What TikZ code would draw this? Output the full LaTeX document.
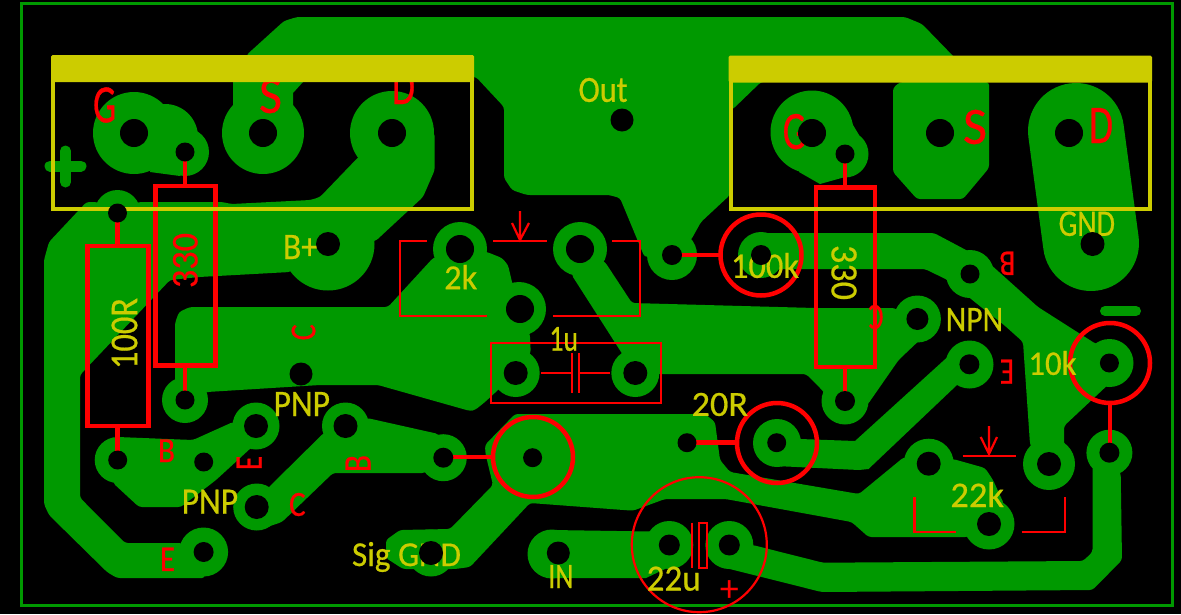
\documentclass[tikz,border=0pt]{standalone}
\usepackage{graphicx}
\usepackage{fontspec}
\newfontfamily\pcbfont[FakeBold=0.6]{Carlito}
\setmainfont{Carlito}
\definecolor{cu}{HTML}{009900}
\definecolor{silk}{HTML}{CCCC00}
\definecolor{rd}{HTML}{FF0000}
\newcommand{\pad}[3]{\fill[cu] (#1,#2) circle (#3pt);}
\newcommand{\hole}[3]{\fill[black] (#1,#2) circle (#3pt);}
\newcommand{\labb}[7][0]{\node[#6,inner sep=0pt,rotate=#1,anchor=center] at (#2,#3) {\resizebox{#4pt}{#5pt}{\fontsize{36}{36}\pcbfont #7}};}
\tikzset{
  poly/.style={fill=cu,rounded corners=3pt},
  redthick/.style={draw=rd,line width=4.5pt},
  redthin/.style={draw=rd,line width=2.2pt},
  silkline/.style={draw=silk,line width=4pt}
}
\begin{document}
\begin{tikzpicture}[x=1pt,y=-1pt]
\useasboundingbox (0,0) rectangle (1181,614);
\fill[black] (0,0) rectangle (1181,614);
% board outline
\draw[cu,line width=3pt] (21.5,3.5) -- (1172,3.5) -- (1172,605.5) -- (21.5,605.5) -- cycle;
% plus and minus
\draw[cu,line width=11pt,line cap=round] (50,166) -- (81,166) (65.5,151) -- (65.5,182);
\draw[cu,line width=10pt,line cap=round] (1105,311) -- (1136,311);
% large output copper
\fill[poly] (284,21) -- (297,17) -- (905,17) -- (922,24) -- (955,58) -- (958,72) -- (761,82) -- (733,109) -- (730,110) -- (730,195) -- (701,222) -- (691,240) -- (672,255) -- (644.5,257) -- (620,198) -- (609,195) -- (527,195) -- (512,190) -- (504,178) -- (504,107) -- (476,77) -- (246.5,62) -- (246.5,55) -- cycle;
\fill[cu] (233,70) -- (303,70) -- (303,82) -- (293,93) -- (293,115) -- (233,115) -- cycle;
% left transistor pads
\pad{134}{133}{41}\pad{263}{133}{41}\pad{392}{133}{42}\pad{185}{152}{24}\pad{165}{137}{33}
\fill[cu] (150,172) -- (180,176) -- (190,150) -- (165,110) -- cycle;
% long left trace with B+
\fill[poly] (49,242) -- (44,260) -- (44,504) -- (49,515) -- (107,572) -- (117,578) -- (205,578) -- (203.6,552) -- (180.6,543) -- (125,543) -- (80,497.7) -- (80,375) -- (170,280) -- (199,277) -- (290,272) -- (328,244) -- (375.6,241) -- (423,197) -- (434.7,170) -- (434.7,133) -- (392,133) -- (357.5,158) -- (320,197) -- (310.5,200) -- (231.5,204) -- (222,202) -- (138.5,202) -- (117.5,213) -- (97,202) -- (86.5,202) -- cycle;
\pad{117.5}{213}{23}\pad{328}{244}{46.5}\pad{203.6}{552}{24.5}
% centre copper
\fill[poly] (175,323) -- (179,312) -- (190,307) -- (388,307) -- (433,258) -- (460,249) -- (487,252) -- (502,258) -- (508,265) -- (512,282) -- (519,309) -- (530,335) -- (530.7,353) -- (515,373) -- (498,390) -- (485,402) -- (475,410) -- (470,411) -- (378,385) -- (320,385) -- (207,392) -- (185,400) -- (175,380) -- cycle;
\pad{460}{249}{27}\pad{519}{309}{27}\pad{515.7}{373}{24}\pad{185}{400}{23}
% right band
\fill[poly] (605,262) -- (632,303) -- (815,308) -- (895,308) -- (925,335) -- (898.6,360) -- (868,404) -- (845,420) -- (822,390) -- (806,374) -- (635,374) -- (621.7,353) -- (571.7,275) -- (580,249) -- cycle;
\pad{580}{249}{27}\pad{635.3}{373}{24}\pad{917.4}{319}{23.5}\pad{845}{401}{23.5}\pad{672}{255}{25}
% right transistor pads
\pad{812}{132}{41.5}\pad{845}{154}{23.5}
\fill[cu] (850,120) -- (859,135) -- (845,177) -- (820,184) -- (799,172) -- (812,132) -- cycle;
\fill[poly] (900,82) -- (989,82) -- (989,168) -- (963,199) -- (917,199) -- (893,172) -- (893,88) -- cycle;
\draw[cu,line width=96pt,line cap=round] (1076,131) -- (1091,243);
% 100k to 10k
\fill[poly] (761,233) -- (934,233) -- (966,250) -- (989,263) -- (1038,307) -- (1096,344) -- (1120,344) -- (1133,363) -- (1105.6,387) -- (1064,426) -- (1064,444) -- (1075,464) -- (1049,489) -- (1030,444) -- (1023,342) -- (1004,325) -- (981,307) -- (947.5,280) -- (925,269) -- (761,269) -- cycle;
\pad{761}{255}{23}\pad{970}{274}{24}\pad{1109.5}{363}{24}\pad{1049}{464}{26}
% 20R to E
\fill[cu] (777,443) -- (800,439) -- (855,441) -- (947.5,357) -- (969,345) -- (990,370) -- (957,385) -- (868.5,469) -- (859,470) -- (776,466) -- cycle;
\pad{777}{443}{24}\pad{969.5}{364.5}{24}
% PNP traces
\fill[poly] (117.7,437) -- (193,440) -- (233,422) -- (256,426) -- (252,447) -- (216,480) -- (181,507) -- (139,507) -- (113,483) -- (117.7,460) -- cycle;
\pad{117.7}{460}{23}\pad{256}{426}{23.5}
\fill[poly] (256,507) -- (269,487) -- (323.7,433) -- (345,426) -- (367,418) -- (438.5,434) -- (443,457) -- (425,473) -- (333,473) -- (282,522) -- (267,527) -- cycle;
\pad{256.7}{507}{23.5}\pad{345.5}{426}{23.5}\pad{443.3}{457.7}{23.5}
% big signal copper
\fill[poly] (515,414) -- (705,414) -- (715,422) -- (720,460) -- (730,472) -- (859,494) -- (904,457) -- (929,464) -- (953,459) -- (985,468) -- (993,480) -- (1004,504) -- (989,524) -- (968,537) -- (868.5,537) -- (851.6,522) -- (725.5,499) -- (665,499) -- (633,510.7) -- (530,503) -- (470,567) -- (455,569) -- (403,569) -- (386,558) -- (386,540) -- (400,530) -- (450,529) -- (493,485) -- (485.5,454) -- (485,445) -- cycle;
\pad{928.7}{463.7}{25}\pad{989}{524}{25.5}\pad{431}{553}{23.5}
% IN
\fill[cu] (552,530) -- (650,531.5) -- (669,545) -- (690,545) -- (665,569) -- (646,578) -- (552,578) -- cycle;
\pad{552}{554}{24.5}\pad{669.3}{545}{24}
% 22u to 10k lower
\fill[poly] (729,545) -- (752.7,545) -- (823,562.7) -- (1083,561) -- (1092.5,552) -- (1092.5,467) -- (1110,453) -- (1120.7,473.7) -- (1122,560) -- (1092.5,590) -- (821.5,592) -- (721.7,567) -- (710,560) -- cycle;
\pad{729.3}{545}{24}\pad{1109.4}{452.7}{23}
% red: leads and bodies
\draw[redthick] (155.4,186) rectangle (215.6,365.7);
\draw[redthick] (185,152) -- (185,186) (185,366) -- (185,400);
\draw[redthick] (87.7,246) rectangle (148.7,426);
\draw[redthick] (117.5,213) -- (117.5,246) (117.5,426) -- (117.5,460);
\draw[redthick] (815.8,187.7) rectangle (875,367);
\draw[redthick] (845,154) -- (845,188) (845,367) -- (845,401);
\draw[redthick] (761,255) circle (40.5pt);
\draw[redthick] (672,255) -- (720.5,255);
\draw[redthick] (1110,363) circle (40pt);
\draw[redthick] (1110,403) -- (1110,452);
\draw[redthick] (533,457) circle (40pt);
\draw[redthick] (443,457) -- (493,457);
\draw[redthick] (777,443) circle (40pt);
\draw[redthick] (687,442.7) -- (737,442.7);
% 2k trimmer
\draw[redthin] (427,241) -- (400,241) -- (400,316) -- (486.7,316);
\draw[redthin] (493.3,241) -- (546.7,241);
\draw[redthin] (612.3,241) -- (640,241) -- (640,316) -- (552.7,316);
\draw[redthin] (520,211) -- (520,240) (512,223) -- (520,240) -- (529,223);
% 1u
\draw[redthin] (490.7,342.7) rectangle (660.7,402.7);
\draw[redthin] (541,373) -- (571.7,373) (579,373) -- (610,373);
\draw[redthin] (571.7,353.3) -- (571.7,392.7) (579,353.3) -- (579,392.7);
% 22k
\draw[redthin] (962.6,456.3) -- (1016,456.3);
\draw[redthin] (989,426) -- (989,454) (980.7,437) -- (989,454) -- (997,437);
\draw[redthin] (914.4,497) -- (914.4,531.7) -- (956,531.7);
\draw[redthin] (1021.7,531.7) -- (1064.6,531.7) -- (1064.6,497);
% 22u
\draw[redthin] (699.3,544.7) circle (67.5pt);
\draw[redthin] (691.7,522.7) -- (691.7,568.3);
\draw[redthin] (698.7,522.7) rectangle (707.3,568.3);
% red labels
\labb{104.6}{105}{23}{35}{rd}{G}
\labb{270.5}{96}{23}{34}{rd}{S}
\labb{403.5}{87}{23}{34}{rd}{D}
\labb{794.3}{131.6}{23}{35}{rd}{G}
\labb{975}{127}{24}{34}{rd}{S}
\labb{1101}{125.5}{24}{35}{rd}{D}
\labb[90]{185.3}{260.5}{55}{24.6}{rd}{330}
\labb[180]{1007.4}{263.3}{16}{23.3}{rd}{B}
\labb[180]{1007}{371.7}{14}{24}{rd}{E}
\labb[180]{876}{317}{15}{24}{rd}{C}
\labb[90]{303.5}{332.3}{16}{23.7}{rd}{C}
\labb[90]{249.2}{463}{14}{25}{rd}{E}
\labb[90]{358}{463.5}{17}{25}{rd}{B}
\labb{166.5}{450.7}{17}{22.7}{rd}{B}
\labb{297.3}{504.5}{16.6}{23}{rd}{C}
\labb{167.5}{559.3}{15}{23.3}{rd}{E}
\node[rd,inner sep=0pt] at (729.3,590.7) {\fontsize{38}{38}\selectfont +};
% yellow silk boxes
\fill[silk,rounded corners=1.5pt] (51,55) rectangle (474,82);
\draw[silkline] (53,80) -- (53,208.7) -- (472,208.7) -- (472,80);
\fill[silk,rounded corners=1.5pt] (728.5,55.7) rectangle (1152,82.5);
\draw[silkline] (730.5,80) -- (730.5,209) -- (1150,209) -- (1150,80);
% yellow labels
\labb{603}{90}{49}{24}{silk}{Out}
\labb{300.5}{247}{35}{24}{silk}{B+}
\labb{460.7}{277}{33}{24.3}{silk}{2k}
\labb{563.7}{339}{28.7}{23.7}{silk}{1u}
\labb[-90]{844}{272.5}{55}{25}{silk}{330}
\labb[90]{124.5}{333.5}{71}{25.6}{silk}{100R}
\labb{765}{265.5}{68}{25}{silk}{100k}
\labb{974.4}{319.5}{57.3}{23}{silk}{NPN}
\labb{1052.5}{363}{48}{24}{silk}{10k}
\labb{719.8}{404.5}{56.4}{23}{silk}{20R}
\labb{977.2}{494.5}{53.5}{25}{silk}{22k}
\labb{673.7}{578.7}{54}{24}{silk}{22u}
\labb{560.8}{576.5}{25}{23}{silk}{IN}
\labb{406.5}{557}{109}{24}{silk}{Sig GND}
\labb{301.8}{404}{56.4}{24}{silk}{PNP}
\labb{209.9}{501.7}{56.4}{24}{silk}{PNP}
\labb{1086.8}{223.8}{56.4}{24.3}{silk}{GND}
% drill holes
\hole{134}{133}{14}\hole{263}{133}{14}\hole{392}{133}{14}\hole{185}{152}{9.5}
\hole{812}{133}{14}\hole{940}{133}{14}\hole{1069}{133}{14}\hole{845}{154}{9.5}
\hole{117.5}{213}{9.5}\hole{328}{244}{12}\hole{1092.5}{244}{12}\hole{622}{120}{11.5}
\hole{460}{249}{14}\hole{580}{249}{14}\hole{520}{309}{14}
\hole{515.7}{373}{12}\hole{635.3}{373}{12}
\hole{672}{255}{10}\hole{761}{255}{10}\hole{970}{274}{9.5}
\hole{917.4}{319}{11}\hole{969.4}{364.3}{10}\hole{1109.4}{363}{9.5}\hole{845}{401}{10}
\hole{1049}{464}{12}\hole{1109.4}{452.7}{10}
\hole{301}{374}{11.5}\hole{185}{400}{9.5}\hole{117.7}{460}{9.5}\hole{203.7}{462}{9.5}
\hole{256}{426}{12}\hole{345.5}{426}{12}\hole{443.3}{457.7}{10}\hole{256.7}{507}{12}
\hole{203.6}{552}{10}\hole{431}{553}{12}\hole{532.6}{457.7}{9.5}
\hole{558.3}{553}{11.5}\hole{669.3}{545}{10.5}\hole{729.3}{545}{10.5}
\hole{687}{442.7}{9.5}\hole{776.7}{442.7}{9.5}\hole{928.7}{463.7}{12}\hole{989}{524}{12}
\end{tikzpicture}
\end{document}
